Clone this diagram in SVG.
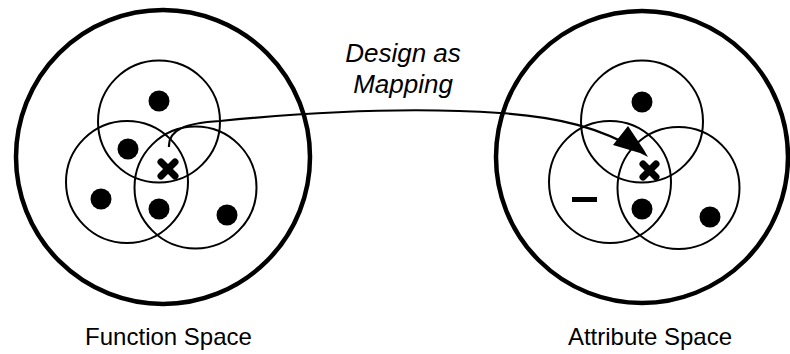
<svg xmlns="http://www.w3.org/2000/svg" width="790" height="354" viewBox="0 0 790 354">
<style>
.outer{fill:none;stroke:#000;stroke-width:4.5}
.inner{fill:none;stroke:#000;stroke-width:2}
.dot{fill:#000}
.xm{stroke:#000;stroke-width:7;stroke-linecap:round}
.lbl{font-family:"Liberation Sans",Arial,sans-serif;font-size:24px;fill:#000;text-anchor:middle}
.cap{font-family:"Liberation Sans",Arial,sans-serif;font-size:26px;font-style:italic;fill:#000;text-anchor:middle}
.conn{fill:none;stroke:#000;stroke-width:2.2}
</style>
<g id="function-space">
<circle class="outer" cx="163" cy="157" r="147"/>
<circle class="inner" cx="159" cy="121.5" r="61"/>
<circle class="inner" cx="127" cy="182" r="61"/>
<circle class="inner" cx="195.5" cy="187.5" r="61"/>
<circle class="dot" cx="159" cy="101" r="10.5"/>
<circle class="dot" cx="128" cy="149" r="10.5"/>
<circle class="dot" cx="101" cy="199" r="10.5"/>
<circle class="dot" cx="159" cy="209" r="10.5"/>
<circle class="dot" cx="227" cy="215" r="10.5"/>
<path class="xm" d="M161,162 L175,176 M175,162 L161,176"/>
<text class="lbl" x="168.5" y="345">Function Space</text>
</g>
<g id="attribute-space">
<circle class="outer" cx="642" cy="157" r="146"/>
<circle class="inner" cx="642" cy="121.5" r="61"/>
<circle class="inner" cx="610" cy="182" r="61"/>
<circle class="inner" cx="678.5" cy="188" r="61"/>
<circle class="dot" cx="642" cy="102" r="10.5"/>
<circle class="dot" cx="642" cy="209" r="10.5"/>
<circle class="dot" cx="710" cy="217" r="10.5"/>
<path class="xm" d="M643,164 L656,177 M656,164 L643,177"/>
<rect x="572" y="197" width="25" height="5" fill="#000"/>
<text class="lbl" x="650" y="345">Attribute Space</text>
</g>
<g id="connectors">
<path class="conn" d="M169,147 C168,130 185,123 220,121 C300,113 400,106 500,113 C560,117 600,128 640,151"/>
<polygon points="613,145 628,126 644,150 648,157 640,153" fill="#000"/>
<text class="cap" x="403" y="62">Design as</text>
<text class="cap" x="403" y="93">Mapping</text>
</g>
</svg>
